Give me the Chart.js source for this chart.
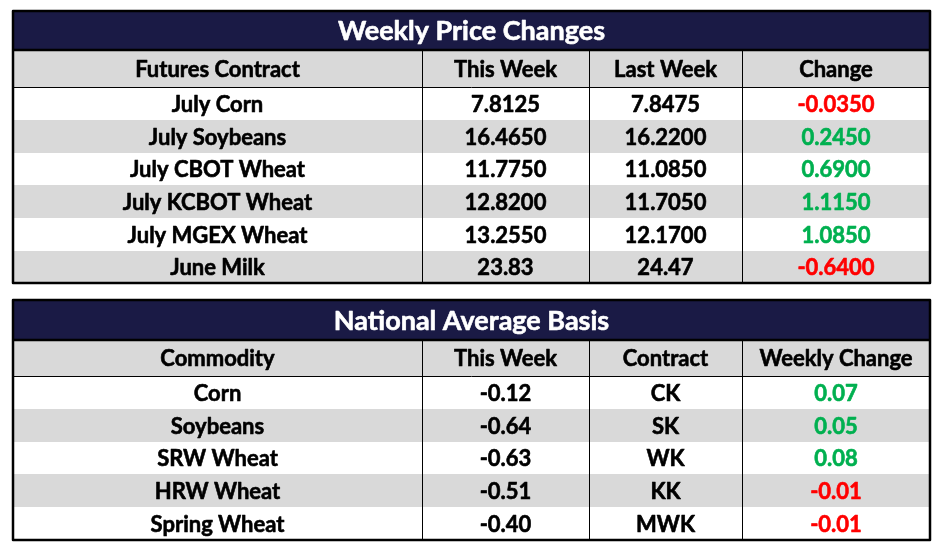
<!DOCTYPE html>
<html>
<head>
<meta charset="utf-8">
<script src="https://cdn.jsdelivr.net/npm/chart.js@4.4.1/dist/chart.umd.min.js"></script>
<style>
  html, body { margin: 0; padding: 0; background: #fff; }
  #wrap { width: 945px; height: 553px; }
</style>
</head>
<body>
<div id="wrap"><canvas id="tables" width="945" height="553"></canvas></div>
<script>
// ===== DATA: Weekly Price Changes =====
const priceTitle = "Weekly Price Changes";
const priceHeaders = ["Futures Contract", "This Week", "Last Week", "Change"];
const priceContracts = ["July Corn", "July Soybeans", "July CBOT Wheat", "July KCBOT Wheat", "July MGEX Wheat", "June Milk"];
const priceThisWeek = ["7.8125", "16.4650", "11.7750", "12.8200", "13.2550", "23.83"];
const priceLastWeek = ["7.8475", "16.2200", "11.0850", "11.7050", "12.1700", "24.47"];
const priceChange = [-0.035, 0.245, 0.69, 1.115, 1.085, -0.64];

// ===== DATA: National Average Basis =====
const basisTitle = "National Average Basis";
const basisHeaders = ["Commodity", "This Week", "Contract", "Weekly Change"];
const basisCommodities = ["Corn", "Soybeans", "SRW Wheat", "HRW Wheat", "Spring Wheat"];
const basisThisWeek = [-0.12, -0.64, -0.63, -0.51, -0.40];
const basisContracts = ["CK", "SK", "WK", "KK", "MWK"];
const basisChange = [0.07, 0.05, 0.08, -0.01, -0.01];

// ===== LAYOUT (scale units) =====
const colWidths = [409, 167, 153, 188];
const titleH = [39, 40];
const headerH = [37.3, 36.5];
const rowH = [32.65, 32.7];
const tableGap = 16.5;

const NAVY = "#1a1a45";
const GRAY = "#d9d9d9";
const RED = "#ff0000";
const GREEN = "#00b050";
const FONT = "Lato, 'Open Sans', sans-serif";

const fmtChange = (v, d) => ({ text: v.toFixed(d), color: v < 0 ? RED : GREEN });

// build the two tables from the arrays
const tables = [
  {
    title: priceTitle,
    headers: priceHeaders,
    rows: priceContracts.map((c, i) => [
      { text: c }, { text: priceThisWeek[i] }, { text: priceLastWeek[i] }, fmtChange(priceChange[i], 4),
    ]),
  },
  {
    title: basisTitle,
    headers: basisHeaders,
    rows: basisCommodities.map((c, i) => [
      { text: c }, { text: basisThisWeek[i].toFixed(2) }, { text: basisContracts[i] }, fmtChange(basisChange[i], 2),
    ]),
  },
];

const totalW = colWidths.reduce((s, w) => s + w, 0);
let totalH = 0;
tables.forEach((t, k) => {
  t.top = totalH;
  totalH += titleH[k] + headerH[k] + rowH[k] * t.rows.length;
  t.bottom = totalH;
  if (k < tables.length - 1) totalH += tableGap;
});

const colEdges = [0];
colWidths.forEach((w) => colEdges.push(colEdges[colEdges.length - 1] + w));

// ===== TABLE PLUGIN =====
const tablePlugin = {
  id: "tablePlugin",
  afterDraw(chart) {
    const ctx = chart.ctx;
    const xs = chart.scales.x;
    const ys = chart.scales.y;
    const px = (v) => Math.round(xs.getPixelForValue(v));
    const py = (v) => Math.round(ys.getPixelForValue(v));
    const left = px(0), right = px(totalW);

    const text = (s, x0, x1, y0, y1, size, color) => {
      const cx = (px(x0) + px(x1)) / 2;
      const cy = (py(y0) + py(y1)) / 2 + 1;
      ctx.fillStyle = color;
      ctx.strokeStyle = color;
      ctx.lineWidth = 0.6;
      ctx.lineJoin = "round";
      ctx.font = "bold " + size + "px " + FONT;
      ctx.textAlign = "center";
      ctx.textBaseline = "middle";
      ctx.fillText(s, cx, cy);
      ctx.strokeText(s, cx, cy); // a bit heavier, closer to the original face
    };

    ctx.save();
    tables.forEach((t, k) => {
      let y = t.top;
      // title
      ctx.fillStyle = NAVY;
      ctx.fillRect(left, py(y), right - left, py(y + titleH[k]) - py(y));
      text(t.title, 0, totalW, y, y + titleH[k], 27, "#fff");
      y += titleH[k];
      const titleBottom = y;
      // header
      ctx.fillStyle = GRAY;
      ctx.fillRect(left, py(y), right - left, py(y + headerH[k]) - py(y));
      t.headers.forEach((h, c) => text(h, colEdges[c], colEdges[c + 1], y, y + headerH[k], 22, "#000"));
      y += headerH[k];
      const headerBottom = y;
      // rows
      t.rows.forEach((row, r) => {
        ctx.fillStyle = r % 2 ? GRAY : "#fff";
        ctx.fillRect(left, py(y), right - left, py(y + rowH[k]) - py(y));
        row.forEach((cell, c) => text(cell.text, colEdges[c], colEdges[c + 1], y, y + rowH[k], 22, cell.color || "#000"));
        y += rowH[k];
      });
      // thin lines
      ctx.strokeStyle = "#000";
      ctx.lineWidth = 1;
      ctx.beginPath();
      for (let c = 1; c < colEdges.length - 1; c++) {
        ctx.moveTo(px(colEdges[c]) + 0.5, py(titleBottom));
        ctx.lineTo(px(colEdges[c]) + 0.5, py(t.bottom));
      }
      ctx.moveTo(left, py(headerBottom) + 0.5);
      ctx.lineTo(right, py(headerBottom) + 0.5);
      ctx.stroke();
      // thick lines
      ctx.lineWidth = 2.5;
      ctx.beginPath();
      ctx.moveTo(left, py(titleBottom));
      ctx.lineTo(right, py(titleBottom));
      ctx.stroke();
      ctx.strokeRect(left, py(t.top), right - left, py(t.bottom) - py(t.top));
    });
    ctx.restore();
  },
};

new Chart(document.getElementById("tables"), {
  type: "scatter",
  data: { datasets: [] },
  options: {
    responsive: false,
    animation: false,
    layout: { padding: { left: 13, right: 945 - 13 - totalW, top: 11, bottom: 553 - 11 - totalH } },
    plugins: { legend: { display: false }, tooltip: { enabled: false } },
    scales: {
      x: { type: "linear", min: 0, max: totalW, display: false },
      y: { type: "linear", min: 0, max: totalH, reverse: true, display: false },
    },
  },
  plugins: [tablePlugin],
});
</script>
</body>
</html>
